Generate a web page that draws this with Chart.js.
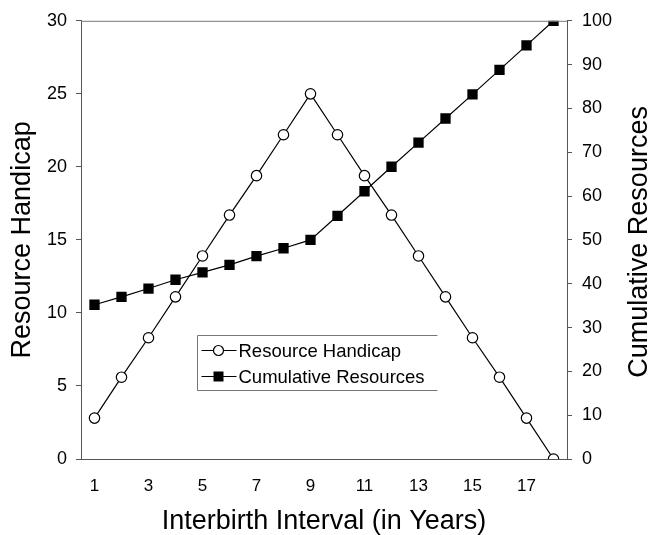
<!DOCTYPE html>
<html>
<head>
    <title>Resource Handicap</title>
    <script src="https://cdn.jsdelivr.net/npm/chart.js@4.4.0/dist/chart.umd.min.js"></script>
    <style>
        body { margin: 0; background: #fff; }
        .chart-container { position: relative; width: 652px; height: 535px; }
    </style>
</head>
<body>
    <div class="chart-container">
        <canvas id="handicapChart"></canvas>
    </div>
    <script>
        // Data
        const years = [1, 2, 3, 4, 5, 6, 7, 8, 9, 10, 11, 12, 13, 14, 15, 16, 17, 18];
        const handicap = [2.8, 5.6, 8.3, 11.1, 13.9, 16.7, 19.4, 22.2, 25, 22.2, 19.4, 16.7, 13.9, 11.1, 8.3, 5.6, 2.8, 0];
        const cumulative = [35.2, 37, 38.9, 40.9, 42.6, 44.3, 46.3, 48.1, 50, 55.5, 61.1, 66.7, 72.2, 77.7, 83.2, 88.8, 94.4, 100];
        const xTicks = [1, 3, 5, 7, 9, 11, 13, 15, 17];
        const xTitle = 'Interbirth Interval (in Years)';
        const yTitle = 'Resource Handicap';
        const y1Title = 'Cumulative Resources';

        const FONT = 'Liberation Sans, Arial, sans-serif';
        const AXIS = '#555';

        const points = (arr) => years.map((x, i) => ({ x: x, y: arr[i] }));

        // Axis titles (right one reads bottom-to-top), top border and legend box
        const extras = {
            id: 'extras',
            afterDraw(chart) {
                const ctx = chart.ctx;
                const area = chart.chartArea;
                const midY = (area.top + area.bottom) / 2;
                ctx.save();

                // top border
                ctx.strokeStyle = '#777';
                ctx.lineWidth = 1;
                ctx.beginPath();
                ctx.moveTo(area.left, area.top + 0.5);
                ctx.lineTo(area.right, area.top + 0.5);
                ctx.stroke();

                // titles
                ctx.fillStyle = '#000';
                ctx.font = '27px ' + FONT;
                ctx.textAlign = 'center';
                ctx.textBaseline = 'alphabetic';
                ctx.fillText(xTitle, (area.left + area.right) / 2, 529);

                ctx.save();
                ctx.translate(30, midY);
                ctx.rotate(-Math.PI / 2);
                ctx.fillText(yTitle, 0, 0);
                ctx.restore();

                ctx.save();
                ctx.translate(647, midY + 2);
                ctx.rotate(-Math.PI / 2);
                ctx.fillText(y1Title, 0, 0);
                ctx.restore();

                // legend box: left, top and bottom edges only
                const bx = 197.5, by = 335.5, bw = 240, bh = 55;
                ctx.strokeStyle = '#777';
                ctx.beginPath();
                ctx.moveTo(bx + bw, by);
                ctx.lineTo(bx, by);
                ctx.lineTo(bx, by + bh);
                ctx.lineTo(bx + bw, by + bh);
                ctx.stroke();

                ctx.font = '18.5px ' + FONT;
                ctx.textAlign = 'left';
                ctx.textBaseline = 'middle';
                chart.data.datasets.forEach((ds, i) => {
                    const cy = by + 15 + i * 26;
                    ctx.strokeStyle = '#000';
                    ctx.lineWidth = 1.2;
                    ctx.beginPath();
                    ctx.moveTo(bx + 4, cy);
                    ctx.lineTo(bx + 39, cy);
                    ctx.stroke();
                    if (i === 0) {
                        ctx.fillStyle = '#fff';
                        ctx.beginPath();
                        ctx.arc(bx + 21, cy, 5, 0, Math.PI * 2);
                        ctx.fill();
                        ctx.stroke();
                    } else {
                        ctx.fillStyle = '#000';
                        ctx.fillRect(bx + 16, cy - 5, 10, 10);
                    }
                    ctx.fillStyle = '#000';
                    ctx.fillText(ds.label, bx + 41, cy + 1);
                });
                ctx.restore();
            }
        };

        new Chart(document.getElementById('handicapChart'), {
            type: 'line',
            data: {
                datasets: [{
                    label: 'Resource Handicap',
                    data: points(handicap),
                    yAxisID: 'y',
                    borderColor: '#000',
                    borderWidth: 1.2,
                    pointStyle: 'circle',
                    pointRadius: 5.2,
                    pointBackgroundColor: '#fff',
                    pointBorderColor: '#000',
                    pointBorderWidth: 1.2,
                    tension: 0
                }, {
                    label: 'Cumulative Resources',
                    data: points(cumulative),
                    yAxisID: 'y1',
                    borderColor: '#000',
                    borderWidth: 1.2,
                    pointStyle: 'rect',
                    pointRadius: 7.3,
                    pointBackgroundColor: '#000',
                    pointBorderColor: '#000',
                    pointBorderWidth: 0,
                    tension: 0
                }]
            },
            options: {
                responsive: true,
                maintainAspectRatio: false,
                animation: false,
                layout: { padding: { top: 17, left: 0, right: 0, bottom: 0 } },
                plugins: {
                    legend: { display: false },
                    tooltip: { enabled: false }
                },
                scales: {
                    x: {
                        type: 'linear',
                        min: 0.5,
                        max: 18.5,
                        afterBuildTicks: (axis) => { axis.ticks = xTicks.map(v => ({ value: v })); },
                        afterFit: (axis) => { axis.height = 76; },
                        grid: { display: false, drawTicks: false },
                        border: { color: AXIS, width: 1 },
                        ticks: { color: '#000', font: { family: FONT, size: 17 }, padding: 17, maxRotation: 0 }
                    },
                    y: {
                        position: 'left',
                        min: 0,
                        max: 30,
                        afterFit: (axis) => { axis.width = 81; },
                        grid: { drawOnChartArea: false, tickLength: 5, color: AXIS },
                        border: { color: AXIS, width: 1 },
                        ticks: { stepSize: 5, color: '#000', font: { family: FONT, size: 18 }, padding: 9 }
                    },
                    y1: {
                        position: 'right',
                        min: 0,
                        max: 100,
                        afterFit: (axis) => { axis.width = 85; },
                        grid: { drawOnChartArea: false, tickLength: 5, color: AXIS },
                        border: { color: AXIS, width: 1 },
                        ticks: { stepSize: 10, color: '#000', font: { family: FONT, size: 18 }, padding: 10 }
                    }
                }
            },
            plugins: [extras]
        });
    </script>
</body>
</html>
